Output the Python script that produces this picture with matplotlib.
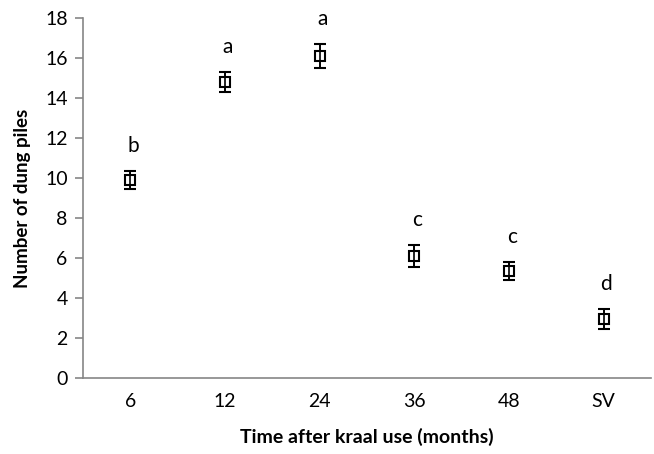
import matplotlib
matplotlib.use("Agg")
import matplotlib.pyplot as plt

plt.rcParams['font.family'] = ['Lato', 'DejaVu Sans']

categories = ["6", "12", "24", "36", "48", "SV"]
means = [9.9, 14.8, 16.1, 6.1, 5.35, 2.95]
errors = [0.45, 0.5, 0.6, 0.55, 0.45, 0.48]
groups = ["b", "a", "a", "c", "c", "d"]
yticks = [0, 2, 4, 6, 8, 10, 12, 14, 16, 18]

fig = plt.figure(figsize=(6.54, 4.54), dpi=100)
ax = fig.add_axes([83 / 654, 76 / 454, 568 / 654, 360 / 454])

x = list(range(len(categories)))
ax.errorbar(x, means, yerr=errors, fmt="s", markersize=7.5,
            markerfacecolor="white", markeredgecolor="black", markeredgewidth=1.5,
            ecolor="black", elinewidth=1.2, capsize=4.5, capthick=1.2, zorder=3)
# redraw the error line over the open square
ax.errorbar(x, means, yerr=errors, fmt="none", ecolor="black",
            elinewidth=1.2, capsize=0, zorder=4)

for xi, m, e, g in zip(x, means, errors, groups):
    ax.annotate(g, (xi, m + e), xytext=(2, 18), textcoords="offset points",
                ha="center", va="center", fontsize=15)

ax.set_xlim(-0.5, len(categories) - 0.5)
ax.set_ylim(0, 18)
ax.set_xticks(x)
ax.set_xticklabels(categories)
ax.set_yticks(yticks)

gray = "#868686"
for side in ("top", "right"):
    ax.spines[side].set_visible(False)
for side in ("left", "bottom"):
    ax.spines[side].set_color(gray)
    ax.spines[side].set_linewidth(1.2)

ax.tick_params(axis="y", direction="out", length=6, width=1.2, color=gray,
               labelsize=14, pad=5)
ax.tick_params(axis="x", length=0, labelsize=14, pad=11)

ax.set_xlabel("Time after kraal use (months)", fontsize=14, fontweight="bold", labelpad=13)
ax.set_ylabel("Number of dung piles", fontsize=13.5, fontweight="bold", labelpad=10)

fig.savefig("out.png", dpi=100)
